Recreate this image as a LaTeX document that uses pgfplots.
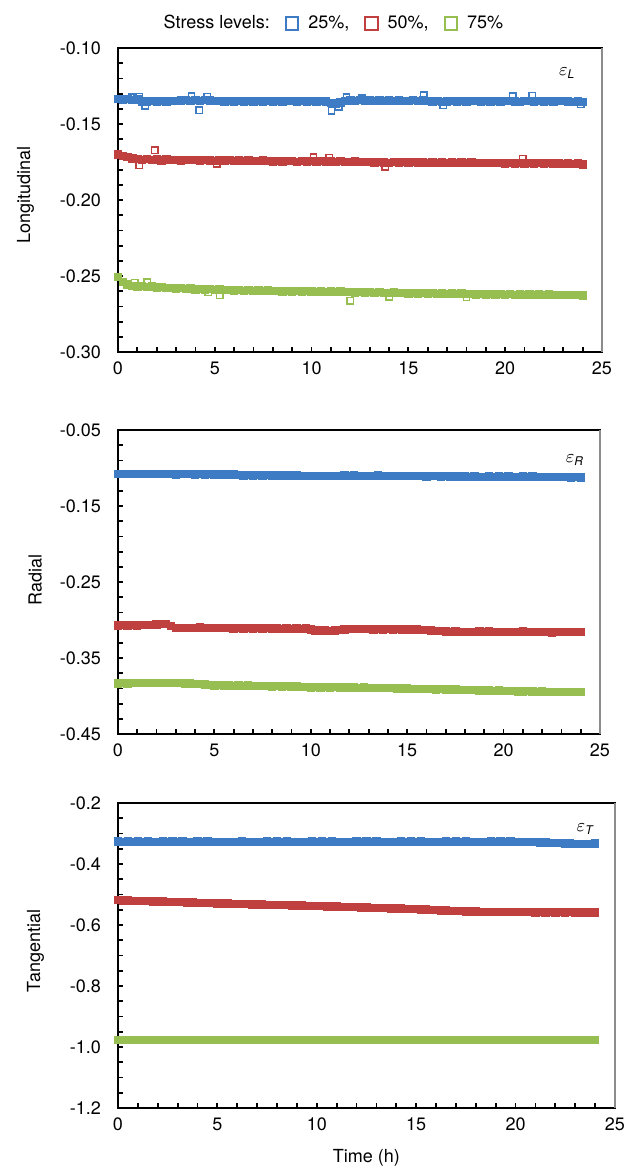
\documentclass[border=0pt]{standalone}
\usepackage{amsmath}
\usepackage{pgfplots}
\pgfplotsset{compat=1.18}
\usepackage{pgfplotstable}
\usepackage{fontspec}
\setmainfont{TeX Gyre Heros}
\definecolor{cblue}{RGB}{61,124,196}
\definecolor{cred}{RGB}{192,64,64}
\definecolor{cgreen}{RGB}{150,190,80}
\definecolor{edgegray}{RGB}{140,140,140}
\newcommand{\fs}{\fontsize{9}{11}\selectfont}

\pgfplotsset{
  legend image code/.code={\draw[#1] plot coordinates {(3.6pt,0pt)};},
  strainaxis/.style={
    scale only axis, xmin=0, xmax=25,
    xtick={0,5,10,15,20,25}, xticklabels={0,5,10,15,20,25},
    minor x tick num=4,
    tick pos=left, tick align=inside,
    major tick length=2.7pt, minor tick length=2.7pt,
    tick style={black, line width=0.9pt},
    axis line style={black, line width=1pt},
    tick label style={font=\fs, black},
    label style={font=\fs},
    xticklabel style={yshift=-1.5pt},
    yticklabel style={xshift=-5pt},
    scaled ticks=false,
    clip=false,
  },
  band/.style={only marks, mark=square*, mark size=1.8pt, mark options={line width=0.6pt}, forget plot},
  outl/.style={only marks, mark=square, mark size=1.6pt, mark options={line width=0.7pt}, forget plot},
}

\pgfplotstableread{
t a b c
0 -0.1336 -0.1700 -0.2505
0.25 -0.1340 -0.1712 -0.2538
0.5 -0.1335 -0.1718 -0.2556
0.75 -0.1341 -0.1726 -0.2565
1 -0.1338 -0.1732 -0.2569
1.25 -0.1357 -0.1735 -0.2566
1.5 -0.1352 -0.1731 -0.2573
1.75 -0.1349 -0.1736 -0.2570
2 -0.1353 -0.1734 -0.2576
2.25 -0.1348 -0.1739 -0.2574
2.5 -0.1352 -0.1733 -0.2579
2.75 -0.1347 -0.1737 -0.2577
3 -0.1350 -0.1735 -0.2582
3.25 -0.1346 -0.1740 -0.2580
3.5 -0.1343 -0.1736 -0.2585
3.75 -0.1347 -0.1738 -0.2583
4 -0.1344 -0.1735 -0.2588
4.25 -0.1348 -0.1741 -0.2586
4.5 -0.1343 -0.1737 -0.2590
4.75 -0.1346 -0.1739 -0.2587
5 -0.1350 -0.1742 -0.2592
5.25 -0.1347 -0.1738 -0.2589
5.5 -0.1352 -0.1741 -0.2594
5.75 -0.1349 -0.1737 -0.2591
6 -0.1353 -0.1743 -0.2595
6.25 -0.1348 -0.1740 -0.2592
6.5 -0.1351 -0.1744 -0.2597
6.75 -0.1347 -0.1739 -0.2594
7 -0.1352 -0.1742 -0.2598
7.25 -0.1349 -0.1745 -0.2595
7.5 -0.1353 -0.1741 -0.2599
7.75 -0.1348 -0.1744 -0.2596
8 -0.1351 -0.1747 -0.2600
8.25 -0.1349 -0.1743 -0.2597
8.5 -0.1353 -0.1746 -0.2601
8.75 -0.1350 -0.1742 -0.2598
9 -0.1348 -0.1745 -0.2602
9.25 -0.1352 -0.1748 -0.2599
9.5 -0.1349 -0.1744 -0.2603
9.75 -0.1351 -0.1746 -0.2600
10 -0.1348 -0.1743 -0.2602
10.25 -0.1352 -0.1747 -0.2604
10.5 -0.1349 -0.1745 -0.2601
10.75 -0.1353 -0.1748 -0.2605
11 -0.1360 -0.1746 -0.2602
11.25 -0.1364 -0.1749 -0.2606
11.5 -0.1358 -0.1745 -0.2603
11.75 -0.1350 -0.1748 -0.2607
12 -0.1345 -0.1750 -0.2604
12.25 -0.1348 -0.1746 -0.2608
12.5 -0.1344 -0.1749 -0.2605
12.75 -0.1347 -0.1751 -0.2609
13 -0.1345 -0.1748 -0.2606
13.25 -0.1349 -0.1752 -0.2610
13.5 -0.1346 -0.1749 -0.2607
13.75 -0.1348 -0.1753 -0.2611
14 -0.1345 -0.1757 -0.2613
14.25 -0.1349 -0.1751 -0.2609
14.5 -0.1346 -0.1754 -0.2612
14.75 -0.1350 -0.1750 -0.2610
15 -0.1347 -0.1753 -0.2614
15.25 -0.1344 -0.1751 -0.2611
15.5 -0.1348 -0.1754 -0.2615
15.75 -0.1345 -0.1752 -0.2612
16 -0.1349 -0.1755 -0.2616
16.25 -0.1352 -0.1752 -0.2613
16.5 -0.1349 -0.1755 -0.2617
16.75 -0.1355 -0.1753 -0.2614
17 -0.1351 -0.1756 -0.2618
17.25 -0.1348 -0.1753 -0.2615
17.5 -0.1352 -0.1756 -0.2619
17.75 -0.1349 -0.1754 -0.2616
18 -0.1353 -0.1757 -0.2620
18.25 -0.1350 -0.1754 -0.2617
18.5 -0.1347 -0.1757 -0.2621
18.75 -0.1351 -0.1755 -0.2618
19 -0.1348 -0.1758 -0.2621
19.25 -0.1352 -0.1755 -0.2619
19.5 -0.1349 -0.1758 -0.2622
19.75 -0.1353 -0.1756 -0.2620
20 -0.1350 -0.1759 -0.2623
20.25 -0.1347 -0.1756 -0.2620
20.5 -0.1351 -0.1759 -0.2623
20.75 -0.1355 -0.1757 -0.2621
21 -0.1350 -0.1760 -0.2624
21.25 -0.1347 -0.1757 -0.2621
21.5 -0.1351 -0.1760 -0.2624
21.75 -0.1348 -0.1758 -0.2622
22 -0.1352 -0.1761 -0.2625
22.25 -0.1349 -0.1758 -0.2622
22.5 -0.1353 -0.1761 -0.2625
22.75 -0.1350 -0.1759 -0.2623
23 -0.1347 -0.1762 -0.2626
23.25 -0.1351 -0.1759 -0.2623
23.5 -0.1354 -0.1762 -0.2626
23.75 -0.1352 -0.1760 -0.2624
24 -0.1357 -0.1763 -0.2625
}\tabL

\pgfplotstableread{
t a b c
0 -0.1079 -0.3070 -0.3833
0.25 -0.1081 -0.3068 -0.3830
0.5 -0.1078 -0.3072 -0.3834
0.75 -0.1080 -0.3067 -0.3829
1 -0.1082 -0.3071 -0.3832
1.25 -0.1079 -0.3066 -0.3828
1.5 -0.1081 -0.3069 -0.3831
1.75 -0.1078 -0.3062 -0.3827
2 -0.1080 -0.3058 -0.3830
2.25 -0.1082 -0.3052 -0.3826
2.5 -0.1079 -0.3055 -0.3829
2.75 -0.1081 -0.3078 -0.3825
3 -0.1083 -0.3102 -0.3828
3.25 -0.1080 -0.3108 -0.3832
3.5 -0.1082 -0.3104 -0.3836
3.75 -0.1079 -0.3109 -0.3833
4 -0.1083 -0.3105 -0.3840
4.25 -0.1081 -0.3101 -0.3845
4.5 -0.1084 -0.3106 -0.3850
4.75 -0.1082 -0.3102 -0.3856
5 -0.1085 -0.3107 -0.3861
5.25 -0.1083 -0.3103 -0.3858
5.5 -0.1086 -0.3108 -0.3863
5.75 -0.1084 -0.3104 -0.3860
6 -0.1088 -0.3110 -0.3865
6.25 -0.1092 -0.3106 -0.3862
6.5 -0.1096 -0.3111 -0.3867
6.75 -0.1093 -0.3107 -0.3864
7 -0.1097 -0.3112 -0.3869
7.25 -0.1094 -0.3108 -0.3866
7.5 -0.1098 -0.3113 -0.3871
7.75 -0.1095 -0.3109 -0.3868
8 -0.1099 -0.3114 -0.3873
8.25 -0.1096 -0.3110 -0.3870
8.5 -0.1100 -0.3115 -0.3875
8.75 -0.1097 -0.3111 -0.3872
9 -0.1101 -0.3116 -0.3877
9.25 -0.1098 -0.3112 -0.3874
9.5 -0.1102 -0.3117 -0.3879
9.75 -0.1106 -0.3113 -0.3882
10 -0.1104 -0.3124 -0.3886
10.25 -0.1108 -0.3136 -0.3883
10.5 -0.1105 -0.3140 -0.3887
10.75 -0.1103 -0.3137 -0.3884
11 -0.1106 -0.3141 -0.3888
11.25 -0.1102 -0.3138 -0.3885
11.5 -0.1105 -0.3134 -0.3889
11.75 -0.1101 -0.3124 -0.3886
12 -0.1104 -0.3118 -0.3890
12.25 -0.1100 -0.3115 -0.3887
12.5 -0.1103 -0.3118 -0.3891
12.75 -0.1106 -0.3122 -0.3888
13 -0.1102 -0.3119 -0.3892
13.25 -0.1105 -0.3123 -0.3895
13.5 -0.1101 -0.3120 -0.3893
13.75 -0.1104 -0.3124 -0.3897
14 -0.1107 -0.3121 -0.3894
14.25 -0.1103 -0.3125 -0.3898
14.5 -0.1106 -0.3122 -0.3902
14.75 -0.1102 -0.3126 -0.3899
15 -0.1105 -0.3123 -0.3903
15.25 -0.1108 -0.3127 -0.3906
15.5 -0.1104 -0.3124 -0.3904
15.75 -0.1107 -0.3128 -0.3908
16 -0.1110 -0.3131 -0.3905
16.25 -0.1106 -0.3136 -0.3909
16.5 -0.1109 -0.3141 -0.3912
16.75 -0.1112 -0.3146 -0.3910
17 -0.1108 -0.3150 -0.3914
17.25 -0.1111 -0.3154 -0.3917
17.5 -0.1114 -0.3151 -0.3915
17.75 -0.1110 -0.3155 -0.3919
18 -0.1113 -0.3158 -0.3922
18.25 -0.1116 -0.3154 -0.3920
18.5 -0.1112 -0.3157 -0.3924
18.75 -0.1115 -0.3153 -0.3927
19 -0.1118 -0.3156 -0.3925
19.25 -0.1114 -0.3152 -0.3929
19.5 -0.1117 -0.3156 -0.3932
19.75 -0.1113 -0.3159 -0.3930
20 -0.1116 -0.3155 -0.3934
20.25 -0.1112 -0.3158 -0.3937
20.5 -0.1115 -0.3154 -0.3935
20.75 -0.1118 -0.3157 -0.3939
21 -0.1114 -0.3153 -0.3941
21.25 -0.1117 -0.3156 -0.3938
21.5 -0.1113 -0.3160 -0.3942
21.75 -0.1116 -0.3157 -0.3945
22 -0.1119 -0.3161 -0.3943
22.25 -0.1115 -0.3158 -0.3946
22.5 -0.1118 -0.3162 -0.3944
22.75 -0.1121 -0.3159 -0.3947
23 -0.1117 -0.3156 -0.3945
23.25 -0.1120 -0.3160 -0.3948
23.5 -0.1123 -0.3157 -0.3946
23.75 -0.1121 -0.3161 -0.3949
24 -0.1125 -0.3159 -0.3947
}\tabR

\pgfplotstableread{
t a b c
0 -0.3268 -0.5180 -0.9770
0.25 -0.3272 -0.5192 -0.9768
0.5 -0.3265 -0.5194 -0.9772
0.75 -0.3270 -0.5203 -0.9769
1 -0.3266 -0.5205 -0.9771
1.25 -0.3271 -0.5214 -0.9768
1.5 -0.3267 -0.5216 -0.9772
1.75 -0.3273 -0.5224 -0.9770
2 -0.3269 -0.5229 -0.9767
2.25 -0.3265 -0.5232 -0.9771
2.5 -0.3270 -0.5240 -0.9769
2.75 -0.3267 -0.5243 -0.9773
3 -0.3272 -0.5250 -0.9770
3.25 -0.3268 -0.5253 -0.9768
3.5 -0.3274 -0.5260 -0.9771
3.75 -0.3270 -0.5262 -0.9769
4 -0.3266 -0.5270 -0.9772
4.25 -0.3271 -0.5273 -0.9768
4.5 -0.3268 -0.5280 -0.9770
4.75 -0.3273 -0.5284 -0.9773
5 -0.3269 -0.5290 -0.9769
5.25 -0.3275 -0.5296 -0.9771
5.5 -0.3280 -0.5299 -0.9768
5.75 -0.3277 -0.5305 -0.9772
6 -0.3272 -0.5309 -0.9770
6.25 -0.3268 -0.5313 -0.9767
6.5 -0.3273 -0.5318 -0.9771
6.75 -0.3269 -0.5322 -0.9769
7 -0.3274 -0.5327 -0.9773
7.25 -0.3270 -0.5330 -0.9770
7.5 -0.3266 -0.5336 -0.9768
7.75 -0.3271 -0.5339 -0.9771
8 -0.3267 -0.5344 -0.9769
8.25 -0.3272 -0.5348 -0.9772
8.5 -0.3268 -0.5353 -0.9768
8.75 -0.3273 -0.5356 -0.9770
9 -0.3269 -0.5362 -0.9773
9.25 -0.3274 -0.5365 -0.9769
9.5 -0.3270 -0.5370 -0.9771
9.75 -0.3266 -0.5374 -0.9768
10 -0.3271 -0.5379 -0.9772
10.25 -0.3267 -0.5384 -0.9770
10.5 -0.3272 -0.5388 -0.9767
10.75 -0.3268 -0.5394 -0.9771
11 -0.3273 -0.5398 -0.9769
11.25 -0.3269 -0.5403 -0.9773
11.5 -0.3274 -0.5409 -0.9770
11.75 -0.3270 -0.5412 -0.9768
12 -0.3266 -0.5419 -0.9771
12.25 -0.3271 -0.5423 -0.9769
12.5 -0.3267 -0.5428 -0.9772
12.75 -0.3272 -0.5433 -0.9768
13 -0.3268 -0.5439 -0.9770
13.25 -0.3273 -0.5442 -0.9773
13.5 -0.3269 -0.5449 -0.9769
13.75 -0.3274 -0.5453 -0.9771
14 -0.3270 -0.5458 -0.9768
14.25 -0.3266 -0.5464 -0.9772
14.5 -0.3271 -0.5468 -0.9770
14.75 -0.3267 -0.5474 -0.9767
15 -0.3272 -0.5478 -0.9771
15.25 -0.3268 -0.5488 -0.9769
15.5 -0.3273 -0.5496 -0.9773
15.75 -0.3269 -0.5505 -0.9770
16 -0.3274 -0.5512 -0.9768
16.25 -0.3270 -0.5520 -0.9771
16.5 -0.3266 -0.5527 -0.9769
16.75 -0.3271 -0.5535 -0.9772
17 -0.3267 -0.5541 -0.9768
17.25 -0.3272 -0.5548 -0.9770
17.5 -0.3268 -0.5552 -0.9773
17.75 -0.3273 -0.5558 -0.9769
18 -0.3269 -0.5562 -0.9771
18.25 -0.3274 -0.5566 -0.9768
18.5 -0.3270 -0.5569 -0.9772
18.75 -0.3266 -0.5572 -0.9770
19 -0.3271 -0.5576 -0.9767
19.25 -0.3267 -0.5573 -0.9771
19.5 -0.3272 -0.5578 -0.9769
19.75 -0.3268 -0.5575 -0.9773
20 -0.3273 -0.5580 -0.9770
20.25 -0.3270 -0.5577 -0.9768
20.5 -0.3275 -0.5582 -0.9771
20.75 -0.3279 -0.5579 -0.9769
21 -0.3284 -0.5584 -0.9772
21.25 -0.3290 -0.5580 -0.9768
21.5 -0.3298 -0.5585 -0.9770
21.75 -0.3305 -0.5581 -0.9773
22 -0.3312 -0.5586 -0.9769
22.25 -0.3318 -0.5582 -0.9771
22.5 -0.3325 -0.5587 -0.9768
22.75 -0.3330 -0.5583 -0.9772
23 -0.3336 -0.5588 -0.9770
23.25 -0.3341 -0.5584 -0.9767
23.5 -0.3345 -0.5589 -0.9771
23.75 -0.3338 -0.5585 -0.9769
24 -0.3322 -0.5587 -0.9772
}\tabT

\begin{document}
\begin{tikzpicture}
% ---------- Panel 1: Longitudinal ----------
\begin{axis}[strainaxis,
  at={(59pt,-24pt)}, anchor=north west,
  width=242pt, height=152pt,
  ymin=-0.30, ymax=-0.10,
  ytick={-0.30,-0.25,-0.20,-0.15,-0.10},
  yticklabels={-0.30,-0.25,-0.20,-0.15,-0.10},
  minor y tick num=4,
  ylabel={Longitudinal},
  ylabel style={at={(rel axis cs:-0.191,0.516)}, anchor=center},
  legend style={at={(rel axis cs:0.073,1)}, anchor=west, yshift=12.25pt,
    draw=none, fill=none, inner sep=0pt, font=\fs,
    nodes={inner sep=0pt},
    /tikz/every odd column/.append style={column sep=5pt},
    /tikz/every even column/.append style={column sep=8pt}},
  legend columns=4,
  legend cell align=left,
]
\addlegendimage{empty legend}
\addlegendentry{Stress levels:}
\addlegendimage{mark=square, mark size=3.1pt, line width=1pt, cblue}
\addlegendentry{25\%,}
\addlegendimage{mark=square, mark size=3.1pt, line width=1pt, cred}
\addlegendentry{50\%,}
\addlegendimage{mark=square, mark size=3.1pt, line width=1pt, cgreen}
\addlegendentry{75\%}
\addplot[band, cblue] table[x=t, y=a] {\tabL};
\addplot[band, cred] table[x=t, y=b] {\tabL};
\addplot[band, cgreen] table[x=t, y=c] {\tabL};
\addplot[outl, cblue] coordinates {(0.7,-0.1324) (1.1,-0.1320) (1.4,-0.1379) (3.8,-0.1316) (4.19,-0.1408) (4.6,-0.1320) (11.03,-0.1414) (11.4,-0.1386) (11.8,-0.1324) (12.6,-0.1331) (15.8,-0.1311) (16.8,-0.1375) (20.4,-0.1316) (21.4,-0.1313) (23.9,-0.1371)};
\addplot[outl, cred] coordinates {(0.5,-0.1719) (0.78,-0.1722) (1.09,-0.1770) (1.9,-0.1671) (5.1,-0.1763) (10.1,-0.1719) (10.9,-0.1722) (13.8,-0.1781) (20.9,-0.1730) (24.0,-0.1768)};
\addplot[outl, cgreen] coordinates {(0.0,-0.2504) (0.86,-0.2544) (1.5,-0.2542) (4.65,-0.2607) (5.26,-0.2625) (12.0,-0.2662) (14.0,-0.2636) (18.0,-0.2640) (24.0,-0.2632)};
\node[font=\fs] at (axis cs:23.2,-0.1167) {$\varepsilon_{\textit{L}}$};
\draw[edgegray, line width=1pt] (rel axis cs:1,0) -- (rel axis cs:1,1);
\end{axis}

% ---------- Panel 2: Radial ----------
\begin{axis}[strainaxis,
  at={(59pt,-215pt)}, anchor=north west,
  width=241pt, height=152pt,
  ymin=-0.45, ymax=-0.05,
  ytick={-0.45,-0.35,-0.25,-0.15,-0.05},
  yticklabels={-0.45,-0.35,-0.25,-0.15,-0.05},
  minor y tick num=4,
  ylabel={Radial},
  ylabel style={at={(rel axis cs:-0.172,0.507)}, anchor=center},
]
\addplot[band, cblue] table[x=t, y=a] {\tabR};
\addplot[band, cred] table[x=t, y=b] {\tabR};
\addplot[band, cgreen] table[x=t, y=c] {\tabR};
\node[font=\fs] at (axis cs:23.7,-0.0895) {$\varepsilon_{\textit{R}}$};
\draw[edgegray, line width=1pt] (rel axis cs:1,0) -- (rel axis cs:1,1);
\end{axis}

% ---------- Panel 3: Tangential ----------
\begin{axis}[strainaxis,
  at={(59pt,-401.5pt)}, anchor=north west,
  width=248.5pt, height=152.5pt,
  ymin=-1.2, ymax=-0.2,
  ytick={-1.2,-1.0,-0.8,-0.6,-0.4,-0.2},
  yticklabels={-1.2,-1.0,-0.8,-0.6,-0.4,-0.2},
  minor y tick num=3,
  ylabel={Tangential},
  ylabel style={at={(rel axis cs:-0.166,0.515)}, anchor=center},
  xlabel={Time (h)},
  xlabel style={at={(rel axis cs:0.5,-0.164)}, anchor=center},
]
\addplot[band, cblue] table[x=t, y=a] {\tabT};
\addplot[band, cred] table[x=t, y=b] {\tabT};
\addplot[band, cgreen] table[x=t, y=c] {\tabT};
\node[font=\fs] at (axis cs:23.5,-0.285) {$\varepsilon_{\textit{T}}$};
\draw[edgegray, line width=1pt] (rel axis cs:1,0) -- (rel axis cs:1,1);
\end{axis}

\pgfresetboundingbox
\path[use as bounding box] (0pt,0pt) rectangle (318pt,-584.5pt);
\end{tikzpicture}
\end{document}
